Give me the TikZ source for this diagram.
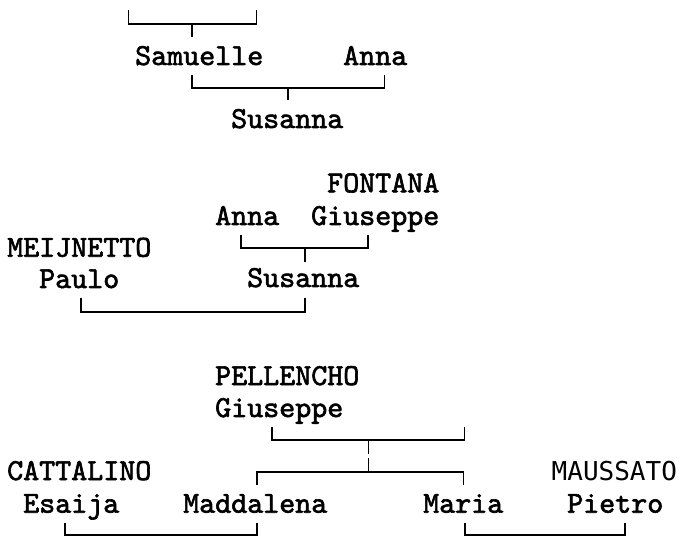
\documentclass[tikz,border=0pt]{standalone}
\usepackage{fontspec}
\newfontfamily\namefont[FakeBold=2]{lmmono10-regular.otf}
\newfontfamily\sansname{DejaVu Sans Mono}
\usepackage{tikz}

\begin{document}
\begin{tikzpicture}[x=1pt,y=-1pt,
    person/.style={font=\namefont\fontsize{30.5}{32}\selectfont,anchor=base west,inner sep=0pt},
    surname/.style={person},
    sanssurname/.style={font=\sansname\fontsize{26}{30}\selectfont,anchor=base west,inner sep=0pt},
    bracket/.style={line width=1.8pt}]

  \useasboundingbox (0,0) rectangle (683,537);

  % --- first group: Samuelle and Anna, their daughter Susanna ---
  \draw[bracket] (128.5,10) |- (256.5,24) -- (256.5,10);
  \draw[bracket] (192,24) -- (192,37);
  \node[person] (samuelle) at (135,65) {Samuelle};
  \node[person] (anna1)    at (343,65) {Anna};
  \draw[bracket] (192,75) |- (384.5,88.3) -- (384.5,75);
  \draw[bracket] (288.3,88.3) -- (288.3,100);
  \node[person] (susanna1) at (231,128) {Susanna};

  % --- second group: Anna and Giuseppe FONTANA, then Paulo MEIJNETTO ---
  \node[surname] (fontana)   at (327,192.3) {FONTANA};
  \node[person]  (anna2)     at (215,225) {Anna};
  \node[person]  (giuseppe1) at (311,225) {Giuseppe};
  \draw[bracket] (240.7,235) |- (368.3,247.7) -- (368.3,235);
  \draw[bracket] (305,247.7) -- (305,261.7);
  \node[surname] (meijnetto) at (7,256.7) {MEIJNETTO};
  \node[person]  (paulo)     at (39,288) {Paulo};
  \node[person]  (susanna2)  at (247,287) {Susanna};
  \draw[bracket] (80.7,298) |- (305,311.7) -- (305,298);

  % --- third group: Giuseppe PELLENCHO and his two daughters ---
  \node[surname] (pellencho) at (215,385) {PELLENCHO};
  \node[person]  (giuseppe2) at (215,417) {Giuseppe};
  \draw[bracket] (271.7,427) |- (464.5,440) -- (464.5,427);
  \draw[bracket] (368.5,440) -- (368.5,454);
  \draw[bracket] (368.5,458) -- (368.5,472);
  \draw[bracket] (256.7,485) |- (463.5,472) -- (463.5,485);
  \node[surname]     (cattalino) at (7,480) {CATTALINO};
  \node[sanssurname] (maussato)  at (551.5,480) {MAUSSATO};
  \node[person] (esaija)    at (23,512.7) {Esaija};
  \node[person] (maddalena) at (183,512.7) {Maddalena};
  \node[person] (maria)     at (423,512.7) {Maria};
  \node[person] (pietro)    at (567,512.7) {Pietro};
  \draw[bracket] (65,523.3) |- (257.3,535) -- (257.3,523.3);
  \draw[bracket] (465,523.3) |- (625,535) -- (625,523.3);
\end{tikzpicture}
\end{document}
